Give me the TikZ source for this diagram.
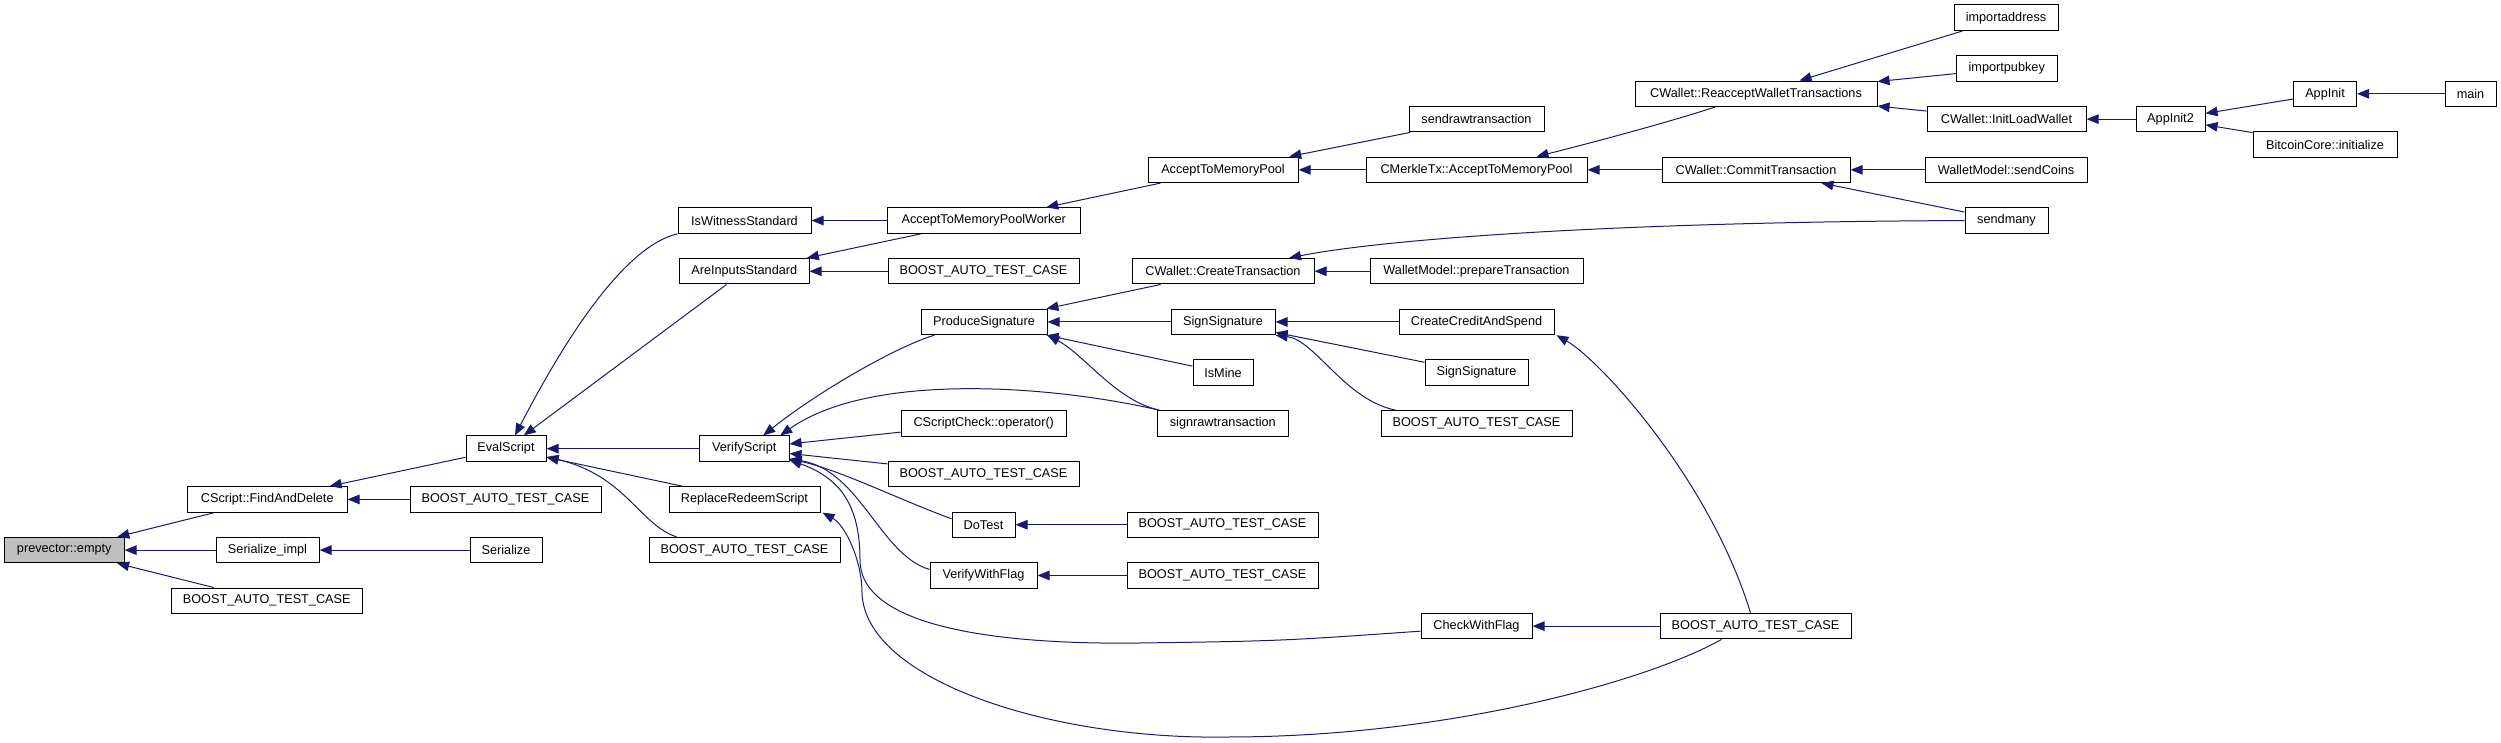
\documentclass[tikz,border=0pt]{standalone}
\usepackage{fontspec}
\setmainfont{Liberation Sans}
\usetikzlibrary{arrows.meta}
\definecolor{edgeblue}{HTML}{191970}
\definecolor{rootgray}{HTML}{BFBFBF}
\newcommand{\autotest}{BOOST\_AUTO\_TEST\_CASE}
\begin{document}
\begin{tikzpicture}[x=1pt,y=-1pt,
  fn/.style={draw=black,line width=1pt,fill=white,inner sep=0pt,minimum height=25.5pt,font=\fontsize{12.7}{15}\selectfont},
  calls/.style={<-,>={Triangle[length=12pt,width=9.5pt]},draw=edgeblue,line width=1pt}]
\useasboundingbox (0,0) rectangle (2501,743);
\node[fn,fill=rootgray,minimum width=119.5pt] (empty) at (64.25,550.1) {prevector::empty};
\node[fn,minimum width=159.5pt] (findDel) at (267.25,499.4) {CScript::FindAndDelete};
\node[fn,minimum width=103pt] (serImpl) at (267.5,550.1) {Serialize\_impl};
\node[fn,minimum width=191.5pt] (testA) at (266.75,600.8) {\autotest};
\node[fn,minimum width=80pt] (evalScript) at (506,448.7) {EvalScript};
\node[fn,minimum width=191pt] (testB) at (505.5,499.4) {\autotest};
\node[fn,minimum width=72pt] (serialize) at (506,550.1) {Serialize};
\node[fn,minimum width=133pt] (isWitness) at (744.5,220.55) {IsWitnessStandard};
\node[fn,minimum width=129.5pt] (areInputs) at (744.25,271.25) {AreInputsStandard};
\node[fn,minimum width=89.5pt] (verifyScript) at (744.25,448.7) {VerifyScript};
\node[fn,minimum width=151pt] (replaceRedeem) at (744.5,499.4) {ReplaceRedeemScript};
\node[fn,minimum width=191pt] (testC) at (744.5,550.1) {\autotest};
\node[fn,minimum width=192.5pt] (atmpWorker) at (983.75,220.55) {AcceptToMemoryPoolWorker};
\node[fn,minimum width=191pt] (testD) at (983.5,271.25) {\autotest};
\node[fn,minimum width=126pt] (produceSig) at (984,321.95) {ProduceSignature};
\node[fn,minimum width=165.5pt] (scriptCheck) at (983.75,423.35) {CScriptCheck::operator()};
\node[fn,minimum width=191pt] (testE) at (983.5,474.05) {\autotest};
\node[fn,minimum width=63pt] (doTest) at (983.5,524.75) {DoTest};
\node[fn,minimum width=107pt] (verifyFlag) at (983.5,575.45) {VerifyWithFlag};
\node[fn,minimum width=150pt] (atmp) at (1223,169.85) {AcceptToMemoryPool};
\node[fn,minimum width=182pt] (createTx) at (1223,271.25) {CWallet::CreateTransaction};
\node[fn,minimum width=104pt] (signSigA) at (1223,321.95) {SignSignature};
\node[fn,minimum width=60pt] (isMine) at (1223,372.65) {IsMine};
\node[fn,minimum width=130.5pt] (signRaw) at (1222.8,423.35) {signrawtransaction};
\node[fn,minimum width=191pt] (testF) at (1222.5,524.75) {\autotest};
\node[fn,minimum width=191pt] (testG) at (1222.5,575.45) {\autotest};
\node[fn,minimum width=135pt] (sendRaw) at (1476.5,119.15) {sendrawtransaction};
\node[fn,minimum width=221pt] (merkleAtmp) at (1476.5,169.85) {CMerkleTx::AcceptToMemoryPool};
\node[fn,minimum width=213pt] (prepareTx) at (1476.5,271.25) {WalletModel::prepareTransaction};
\node[fn,minimum width=155pt] (creditSpend) at (1476.5,321.95) {CreateCreditAndSpend};
\node[fn,minimum width=103pt] (signSigB) at (1476.5,372.65) {SignSignature};
\node[fn,minimum width=191pt] (testH) at (1476.5,423.35) {\autotest};
\node[fn,minimum width=111pt] (checkFlag) at (1476.5,626.15) {CheckWithFlag};
\node[fn,minimum width=242pt] (reaccept) at (1756,93.8) {CWallet::ReacceptWalletTransactions};
\node[fn,minimum width=188pt] (commitTx) at (1756,169.85) {CWallet::CommitTransaction};
\node[fn,minimum width=191pt] (testI) at (1755.5,626.15) {\autotest};
\node[fn,minimum width=104pt] (importAddr) at (2006,17.75) {importaddress};
\node[fn,minimum width=100.5pt] (importPub) at (2006.75,68.45) {importpubkey};
\node[fn,minimum width=159pt] (initLoad) at (2006.5,119.15) {CWallet::InitLoadWallet};
\node[fn,minimum width=162pt] (sendCoins) at (2006,169.85) {WalletModel::sendCoins};
\node[fn,minimum width=83pt] (sendMany) at (2006.5,220.55) {sendmany};
\node[fn,minimum width=69pt] (appInit2) at (2170.5,119.15) {AppInit2};
\node[fn,minimum width=63pt] (appInit) at (2325,93.8) {AppInit};
\node[fn,minimum width=144pt] (btcInit) at (2325,144.5) {BitcoinCore::initialize};
\node[fn,minimum width=51pt] (mainFn) at (2470.5,93.8) {main};
\draw[calls] (empty) -- (findDel);
\draw[calls] (empty) -- (serImpl);
\draw[calls] (empty) -- (testA);
\draw[calls] (findDel) -- (evalScript);
\draw[calls] (findDel) -- (testB);
\draw[calls] (serImpl) -- (serialize);
\draw[calls] (evalScript) -- (areInputs);
\draw[calls] (evalScript) -- (verifyScript);
\draw[calls] (evalScript) -- (replaceRedeem);
\draw[calls] ([xshift=9pt]evalScript.north) .. controls (575,320) and (630,245) .. (isWitness.south west);
\draw[calls] ([yshift=5pt]evalScript.south east) .. controls (625,475) and (640,525) .. ([xshift=28pt]testC.north west);
\draw[calls] (isWitness) -- (atmpWorker);
\draw[calls] (areInputs) -- (atmpWorker);
\draw[calls] (areInputs) -- (testD);
\draw[calls] (atmpWorker) -- (atmp);
\draw[calls] (atmp) -- (sendRaw);
\draw[calls] (atmp) -- (merkleAtmp);
\draw[calls] (merkleAtmp) -- (commitTx);
\draw[calls] ([xshift=60pt]merkleAtmp.north) .. controls (1575,147) and (1660,125) .. ([xshift=-41pt]reaccept.south);
\draw[calls] (reaccept) -- (importAddr);
\draw[calls] (reaccept) -- (importPub);
\draw[calls] (reaccept) -- (initLoad);
\draw[calls] (initLoad) -- (appInit2);
\draw[calls] (appInit2) -- (appInit);
\draw[calls] (appInit2) -- (btcInit);
\draw[calls] (appInit) -- (mainFn);
\draw[calls] (commitTx) -- (sendCoins);
\draw[calls] (commitTx) -- (sendMany);
\draw[calls] (verifyScript) -- (scriptCheck);
\draw[calls] (verifyScript) -- (testE);
\draw[calls] ([xshift=19pt]verifyScript.north) .. controls (820,390) and (900,345) .. ([xshift=14pt]produceSig.south west);
\draw[calls] ([xshift=36pt]verifyScript.north) .. controls (870,372) and (1050,385) .. ([xshift=2pt]signRaw.north west);
\draw[calls] ([yshift=3pt]verifyScript.south east) .. controls (840,470) and (900,500) .. ([yshift=6pt]doTest.west);
\draw[calls] ([yshift=3pt]verifyScript.south east) .. controls (860,470) and (880,555) .. ([yshift=6pt]verifyFlag.west);
\draw[calls] ([yshift=2pt]verifyScript.south east) .. controls (840,478) and (860,505) .. (860,560) .. controls (860,625) and (990,645) .. (1140,643) .. controls (1280,641) .. ([yshift=-5pt]checkFlag.west);
\draw[calls] ([xshift=2pt]replaceRedeem.south east) .. controls (845,525) and (862,560) .. (862,593) .. controls (865,680) and (1050,740) .. (1227,737) .. controls (1450,737) and (1650,680) .. ([xshift=-34pt]testI.south);
\draw[calls] (produceSig) -- (createTx);
\draw[calls] (produceSig) -- (signSigA);
\draw[calls] (produceSig) -- (isMine);
\draw[calls] (produceSig.south east) .. controls (1085,355) and (1115,400) .. ([xshift=2pt]signRaw.north west);
\draw[calls] (createTx) -- (prepareTx);
\draw[calls] ([xshift=66pt]createTx.north) .. controls (1380,240) and (1600,222) .. (sendMany.west);
\draw[calls] (signSigA) -- (creditSpend);
\draw[calls] (signSigA) -- (signSigB);
\draw[calls] (signSigA.south east) .. controls (1315,340) and (1345,400) .. ([xshift=15pt]testH.north west);
\draw[calls] ([xshift=2pt]creditSpend.south east) .. controls (1600,360) and (1710,480) .. ([xshift=-5pt]testI.north);
\draw[calls] (doTest) -- (testF);
\draw[calls] (verifyFlag) -- (testG);
\draw[calls] (checkFlag) -- (testI);
\end{tikzpicture}
\end{document}
